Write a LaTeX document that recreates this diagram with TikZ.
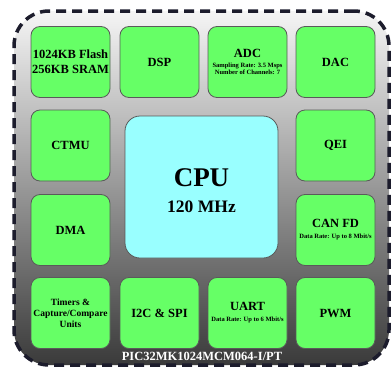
\documentclass[tikz,border=0pt]{standalone}
\usepackage{fontspec}
\setmainfont{Liberation Serif}
\definecolor{chipgreen}{HTML}{66FF66}
\definecolor{cpucyan}{HTML}{99FFFF}
\definecolor{boxedge}{HTML}{5A5A5A}
\definecolor{dashnavy}{HTML}{1C1C2C}
\definecolor{shadetop}{HTML}{F5F5F5}
\definecolor{shadebot}{HTML}{3A3A3A}
\newcommand{\subsize}{\fontsize{6.5}{7.5}\selectfont}
\begin{document}
\begin{tikzpicture}[x=1pt,y=-1pt,
  package/.style={shade, top color=shadetop, bottom color=shadebot,
    draw=dashnavy, line width=3.5pt, dash pattern=on 10pt off 6pt,
    rounded corners=35pt, minimum width=375pt, minimum height=354pt, inner sep=0pt},
  unit/.style={draw=boxedge, line width=0.8pt, fill=chipgreen, rounded corners=9pt,
    minimum width=79pt, minimum height=71pt, inner sep=0pt, align=center,
    font=\bfseries\fontsize{12.5}{15}\selectfont},
  smallunit/.style={unit, font=\bfseries\fontsize{9.5}{11}\selectfont},
  core/.style={draw=boxedge, line width=0.8pt, fill=cpucyan, rounded corners=15pt,
    minimum width=153pt, minimum height=142pt, inner sep=0pt, align=center,
    font=\bfseries\fontsize{17.5}{26}\selectfont},
  partno/.style={text=white, font=\bfseries\fontsize{12.5}{14}\selectfont, inner sep=0pt}
]
\useasboundingbox (0,0) rectangle (391,367);

% package outline
\node[package] (chip) at (201.5,188) {};

% top row
\node[unit] (mem) at (70.5,62) {1024KB Flash\\256KB SRAM};
\node[unit] (dsp) at (159.5,62) {DSP};
\node[unit] (adc) at (247.5,62) {ADC\\[-5.5pt]{\subsize Sampling Rate: 3.5 Msps}\\[-7.5pt]{\subsize Number of Channels: 7}};
\node[unit] (dac) at (335.5,62) {DAC};

% side columns
\node[unit] (ctmu) at (70.5,145.5) {CTMU};
\node[unit] (qei) at (335.5,145.5) {QEI};
\node[unit] (dma) at (70.5,230) {DMA};
\node[unit] (can) at (335.5,230) {CAN FD\\[-4pt]{\subsize Data Rate: Up to 8 Mbit/s}};

% bottom row
\node[smallunit] (tmr) at (70.5,313) {Timers \&\\Capture/Compare\\Units};
\node[unit] (i2c) at (159.5,313) {I2C \& SPI};
\node[unit] (uart) at (247.5,313) {UART\\[-4pt]{\subsize Data Rate: Up to 6 Mbit/s}};
\node[unit] (pwm) at (335.5,313) {PWM};

% processor core (the strut pushes the two lines slightly below centre)
\node[core] (cpu) at (201.5,187) {\rule{0pt}{25pt}{\fontsize{27}{27}\selectfont CPU}\\120 MHz};

% part number
\node[partno] (part) at (202,356.5) {PIC32MK1024MCM064-I/PT};
\end{tikzpicture}
\end{document}
